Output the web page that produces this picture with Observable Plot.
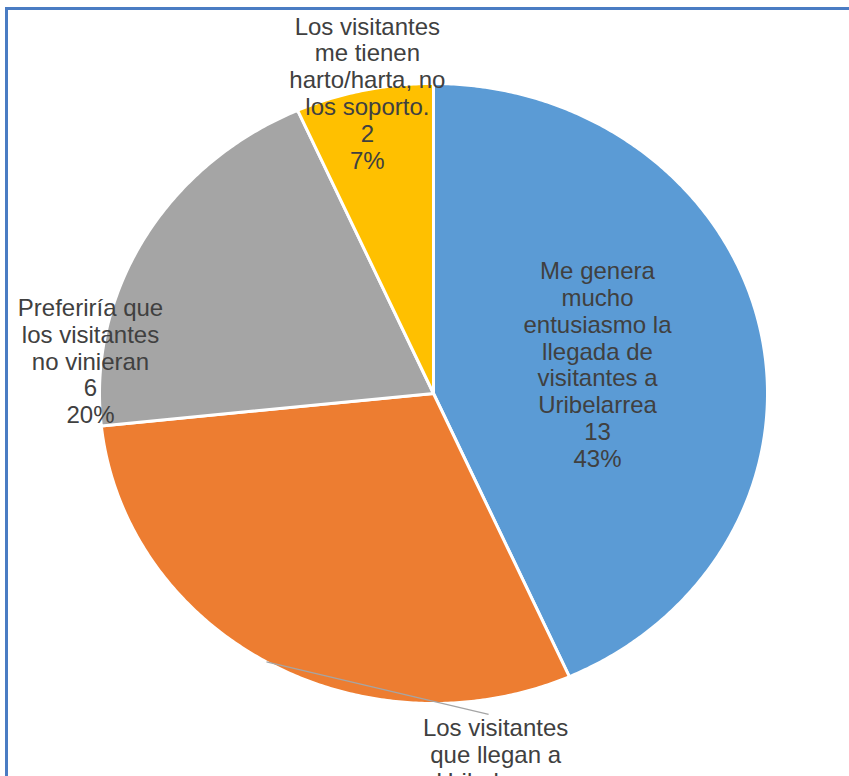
<!DOCTYPE html>
<html><head><meta charset="utf-8">
<script src="https://cdn.jsdelivr.net/npm/d3@7"></script>
<script src="https://cdn.jsdelivr.net/npm/@observablehq/plot@0.6"></script>
<style>
html,body{margin:0;padding:0;background:#fff;overflow:hidden;width:849px;height:776px}
#chart{position:absolute;left:0;top:0}
#chart svg{overflow:hidden;background:#fff}
#frame{position:absolute;left:5px;top:7px;width:900px;height:820px;border-left:3px solid #4a7cc3;border-top:3px solid #4a7cc3;pointer-events:none}
</style></head><body>
<div id="chart"></div><div id="frame"></div>
<script>
// ---- data ----
const categories = [
  "Me genera\nmucho\nentusiasmo la\nllegada de\nvisitantes a\nUribelarrea",
  "Los visitantes\nque llegan a\nUribelarrea",
  "Preferiría que\nlos visitantes\nno vinieran",
  "Los visitantes\nme tienen\nharto/harta, no\nlos soporto."
];
const counts = [13, 9, 6, 2];
const percents = ["43%", "30%", "20%", "7%"];

// ---- styles / layout (not data) ----
const colors = ["#5B9BD5", "#ED7D31", "#A5A5A5", "#FFC000"];
// label block centers in unit (ellipse) coordinates
const labelX = [0.491, 0.186, -1.027, -0.198];
const labelY = [0.094, -1.252, 0.105, 0.969];
const leaderIndex = 1;

const arcs = d3.pie().sort(null).value(d => d)(counts);

const slices = arcs.map((a, i) => {
  const pts = [{x: 0, y: 0}];
  const n = Math.max(8, Math.ceil((a.endAngle - a.startAngle) / (Math.PI / 360)));
  for (let k = 0; k <= n; k++) {
    const t = a.startAngle + (a.endAngle - a.startAngle) * k / n;
    pts.push({x: Math.sin(t), y: Math.cos(t)});
  }
  return {pts, color: colors[i]};
});

const labels = categories.map((c, i) => ({
  x: labelX[i], y: labelY[i],
  text: c + "\n" + counts[i] + "\n" + percents[i]
}));

const la = arcs[leaderIndex];
const mid = (la.startAngle + la.endAngle) / 2;
const leader = [{x1: Math.sin(mid), y1: Math.cos(mid), x2: 0.165, y2: -1.035}];

const marks = slices.map(s => Plot.line(s.pts, {
  x: "x", y: "y", fill: s.color, stroke: "white", strokeWidth: 3,
  curve: "linear-closed", strokeLinejoin: "round"
}));
marks.push(Plot.link(leader, {x1: "x1", y1: "y1", x2: "x2", y2: "y2", stroke: "#a5a5a5", strokeWidth: 1.3}));
marks.push(Plot.text(labels, {
  x: "x", y: "y", text: "text", fontSize: 24, lineHeight: 1.12,
  fill: "#404040", fontFamily: "Liberation Sans, Arial, sans-serif", lineAnchor: "middle"
}));

const chart = Plot.plot({
  width: 849, height: 776,
  marginLeft: 99, marginRight: 82, marginTop: 83, marginBottom: 73,
  x: {domain: [-1, 1], axis: null},
  y: {domain: [-1, 1], axis: null},
  style: {background: "#fff", overflow: "hidden"},
  marks
});
document.getElementById("chart").appendChild(chart);
</script>
</body></html>
